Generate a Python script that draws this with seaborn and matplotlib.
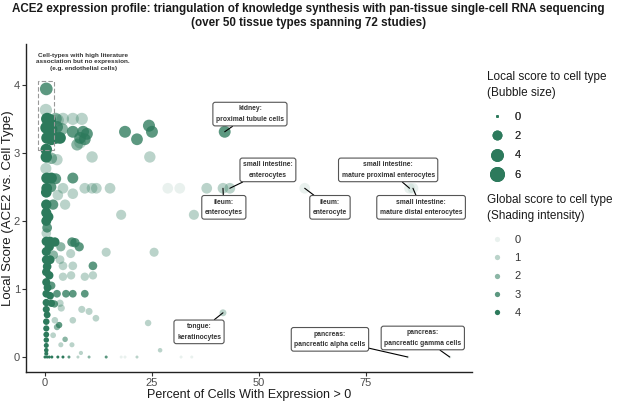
import pandas as pd
import seaborn as sns
import matplotlib.pyplot as plt
from matplotlib.lines import Line2D
from matplotlib.patches import Rectangle
from matplotlib.colors import to_rgba

# one entry per cell type: percent expressing, local score, global score
pct_expr = [
    0.3, 0.2,
    0.5, 1.2, 2.5, 3.0, 4.2, 6.5, 8.6,
    0.3, 1.5, 2.8, 4.0,
    6.5, 8.9, 9.8, 18.7, 24.3, 25.0, 42.0,
    0.5, 1.5, 2.5, 3.5, 8.2, 9.3, 21.5, 8.2, 7.5,
    0.3, 0.3, 1.5, 2.8, 11.0, 24.5,
    0.2,
    0.4, 1.5, 2.5, 6.5,
    0.4, 1.4, 4.2, 9.3, 11.0, 12.0, 15.2, 28.7, 31.5, 37.8, 41.6, 43.2, 60.7, 85.2, 86.0,
    0.3, 6.5, 3.0,
    0.3, 1.9, 4.7,
    0.3, 0.8, 17.8, 34.8,
    0.3, 0.5, 0.3,
    0.3, 1.2, 2.3, 6.3, 7.0, 3.7, 8.0, 1.0,
    0.3, 6.0, 14.3, 25.5, 2.0,
    0.3, 1.2, 3.5, 11.2, 4.2, 6.5, 0.5,
    0.3, 1.0, 4.2, 6.1, 9.3, 11.2,
    0.3, 0.6, 1.5,
    0.3, 2.8, 4.9, 6.5, 9.3, 1.2,
    0.3, 1.5, 2.2, 3.5, 3.8, 8.6, 10.3, 11.9,
    0.3, 0.5, 2.3, 6.5, 24.1, 41.6,
    0.3, 3.3, 2.8, 0.3,
    0.3, 1.9, 4.7, 0.3,
    0.3, 3.7, 6.3, 0.3, 8.4, 26.9, 0.3,
    0.0, 0.5, 1.0, 1.6, 3.0, 4.2, 5.6, 7.7, 10.3, 14.3, 17.8, 18.7, 21.5, 31.8, 34.3, 84.8, 94.6,
]
local_score = [
    3.94, 3.63,
    3.50, 3.48, 3.50, 3.48, 3.50, 3.50, 3.50,
    3.37, 3.35, 3.38, 3.35,
    3.31, 3.31, 3.28, 3.31, 3.40, 3.31, 3.31,
    3.22, 3.20, 3.22, 3.22, 3.22, 3.20, 3.20, 3.15, 3.12,
    3.05, 2.94, 2.92, 2.90, 2.94, 2.94,
    2.77,
    2.63, 2.63, 2.62, 2.63,
    2.48, 2.50, 2.48, 2.48, 2.48, 2.48, 2.48, 2.48, 2.48, 2.48, 2.48, 2.48, 2.48, 2.48, 2.48,
    2.42, 2.40, 2.38,
    2.24, 2.24, 2.24,
    2.12, 2.06, 2.09, 2.09,
    2.00, 1.90, 1.82,
    1.70, 1.70, 1.69, 1.69, 1.68, 1.62, 1.62, 1.62,
    1.55, 1.52, 1.54, 1.54, 1.50,
    1.43, 1.43, 1.43, 1.34, 1.34, 1.34, 1.33,
    1.25, 1.20, 1.18, 1.20, 1.18, 1.20,
    1.10, 1.02, 1.05,
    0.93, 0.93, 0.93, 0.93, 0.93, 0.90,
    0.80, 0.79, 0.78, 0.79, 0.72, 0.70, 0.67, 0.57,
    0.70, 0.62, 0.54, 0.54, 0.50, 0.65,
    0.52, 0.47, 0.44, 0.42,
    0.33, 0.32, 0.26, 0.25,
    0.17, 0.18, 0.18, 0.10, 0.06, 0.10, 0.05,
    0.0, 0.0, 0.0, 0.0, 0.0, 0.0, 0.0, 0.0, 0.0, 0.0, 0.0, 0.0, 0.0, 0.0, 0.0, 0.0, 0.0,
]
global_score = [
    3, 1,
    4, 4, 2, 1, 1, 1, 1,
    4, 4, 3, 2,
    3, 3, 3, 3, 3, 3, 3,
    4, 4, 4, 4, 3, 3, 3, 1, 2,
    4, 4, 2, 1, 1, 1,
    1,
    4, 4, 3, 3,
    4, 3, 1, 1, 1, 1, 1, 0, 0, 1, 1, 1, 0, 0, 0,
    4, 1, 1,
    4, 3, 1,
    4, 4, 1, 1,
    4, 3, 1,
    4, 4, 4, 3, 3, 2, 3, 4,
    4, 1, 1, 1, 2,
    4, 4, 1, 3, 1, 1, 4,
    4, 4, 1, 1, 1, 1,
    4, 4, 3,
    4, 3, 3, 3, 3, 4,
    4, 4, 3, 1, 1, 1, 1, 1,
    4, 4, 1, 1, 1, 1,
    4, 3, 2, 4,
    4, 1, 2, 4,
    4, 1, 1, 4, 1, 1, 4,
    4, 4, 4, 4, 4, 4, 3, 1, 2, 3, 0, 0, 1, 0, 0, 0, 0,
]

# labelled cell types: text, label centre, target point
label_text = [
    "kidney:\nproximal tubule cells",
    "small intestine:\nenterocytes",
    "ileum:\nenterocytes",
    "ileum:\nenterocyte",
    "small intestine:\nmature proximal enterocytes",
    "small intestine:\nmature distal enterocytes",
    "tongue:\nkeratinocytes",
    "pancreas:\npancreatic alpha cells",
    "pancreas:\npancreatic gamma cells",
]
label_x = [47.9, 52.1, 41.8, 66.6, 80.2, 87.9, 36.0, 66.6, 88.3]
label_y = [3.57, 2.75, 2.20, 2.20, 2.75, 2.20, 0.37, 0.26, 0.28]
point_x = [42.0, 43.2, 41.6, 60.7, 85.2, 86.0, 41.6, 84.8, 94.6]
point_y = [3.31, 2.48, 2.48, 2.48, 2.48, 2.48, 0.65, 0.0, 0.0]

size_levels = [0, 2, 4, 6]
global_levels = [0, 1, 2, 3, 4]

green = "#2d7a5c"
alpha_of = {g: 0.1 + 0.9 * g / 4 for g in global_levels}
palette = {g: to_rgba(green, alpha_of[g]) for g in global_levels}


def bubble_area(v):
    # ggplot-like area scale: diameter grows with sqrt of the score
    d_px = 3 + 12 * (v / 6) ** 0.5
    return (d_px * 0.72) ** 2


size_map = {v: bubble_area(v) for v in sorted(set(local_score))}

df = pd.DataFrame({"pct": pct_expr, "local": local_score, "glob": global_score})

sns.set_theme(style="white")
plt.rcParams["font.family"] = ["Liberation Sans", "DejaVu Sans"]

fig = plt.figure(figsize=(6.17, 4.01), dpi=100)
ax = fig.add_axes([26 / 617, 1 - 372 / 401, 446 / 617, 328 / 401])

sns.scatterplot(data=df, x="pct", y="local", size="local", sizes=size_map,
                hue="glob", palette=palette,
                linewidth=0, edgecolor="none", legend=False, ax=ax)

ax.set_xlim(-4.44, 99.8)
ax.set_ylim(-0.22, 4.6)
ax.set_xticks([0, 25, 50, 75])
ax.set_yticks([0, 1, 2, 3, 4])
ax.set_xlabel("Percent of Cells With Expression > 0", fontsize=9, color="#1a1a1a",
              labelpad=1)
ax.set_ylabel("Local Score (ACE2 vs. Cell Type)", fontsize=9.5, color="#1a1a1a",
              labelpad=0)
ax.tick_params(axis="both", labelsize=8, labelcolor="#4d4d4d", length=3, pad=1.2,
               width=0.8, color="#333333", direction="out", bottom=True, left=True)
for side in ["top", "right"]:
    ax.spines[side].set_visible(False)
for side in ["left", "bottom"]:
    ax.spines[side].set_color("#222222")
    ax.spines[side].set_linewidth(1.0)

# dashed box around high-literature / no-expression group
ax.add_patch(Rectangle((-1.6, 3.04), 3.7, 1.02, fill=False, ls=(0, (4, 2)),
                       ec="#999999", lw=0.8))
ax.text(8.9, 4.34, "Cell-types with high literature\nassociation but no expression.\n(e.g. endothelial cells)",
        ha="center", va="center", fontsize=4.6, fontweight="bold", color="#333333",
        linespacing=1.35)

for txt, lx, ly, px, py in zip(label_text, label_x, label_y, point_x, point_y):
    ax.annotate(txt, xy=(px, py), xytext=(lx, ly), ha="center", va="center",
                fontsize=4.9, fontweight="bold", color="#333333", linespacing=1.7,
                bbox=dict(boxstyle="round,pad=0.45,rounding_size=0.35", fc="white",
                          ec="#555555", lw=0.8),
                arrowprops=dict(arrowstyle="-", color="black", lw=0.8,
                                shrinkA=0, shrinkB=0))

fig.text(0.5, 1 - 3 / 401,
         "ACE2 expression profile: triangulation of knowledge synthesis with pan-tissue single-cell RNA sequencing\n(over 50 tissue types spanning 72 studies)",
         ha="center", va="top", fontsize=8.4, fontweight="bold", color="#1a1a1a",
         linespacing=1.25)

# legends: titles as figure text, entries as marker-only legends
fig.text(487 / 617, 1 - 85 / 401, "Local score to cell type\n(Bubble size)",
         ha="left", va="center", fontsize=8.5, color="#1a1a1a", linespacing=1.4)
fig.text(487 / 617, 1 - 208 / 401, "Global score to cell type\n(Shading intensity)",
         ha="left", va="center", fontsize=8.5, color="#1a1a1a", linespacing=1.4)

size_handles = [Line2D([], [], marker="o", ls="", color=green,
                       markersize=bubble_area(s) ** 0.5, markeredgewidth=0)
                for s in size_levels]
leg1 = fig.legend(size_handles, [str(s) for s in size_levels],
                  loc="upper left", bbox_to_anchor=(490 / 617, 1 - 111.5 / 401),
                  frameon=False, fontsize=8, borderpad=0, borderaxespad=0,
                  labelspacing=0.85, handletextpad=0.9, handlelength=1.3,
                  labelcolor="#333333")
fig.add_artist(leg1)

alpha_handles = [Line2D([], [], marker="o", ls="", markersize=3.8,
                        markerfacecolor=palette[g], markeredgewidth=0)
                 for g in global_levels]
fig.legend(alpha_handles, [str(g) for g in global_levels],
           loc="upper left", bbox_to_anchor=(490 / 617, 1 - 234.5 / 401),
           frameon=False, fontsize=8, borderpad=0, borderaxespad=0,
           labelspacing=0.76, handletextpad=0.9, handlelength=1.3,
           labelcolor="#333333")

fig.savefig("out.png", dpi=100)
